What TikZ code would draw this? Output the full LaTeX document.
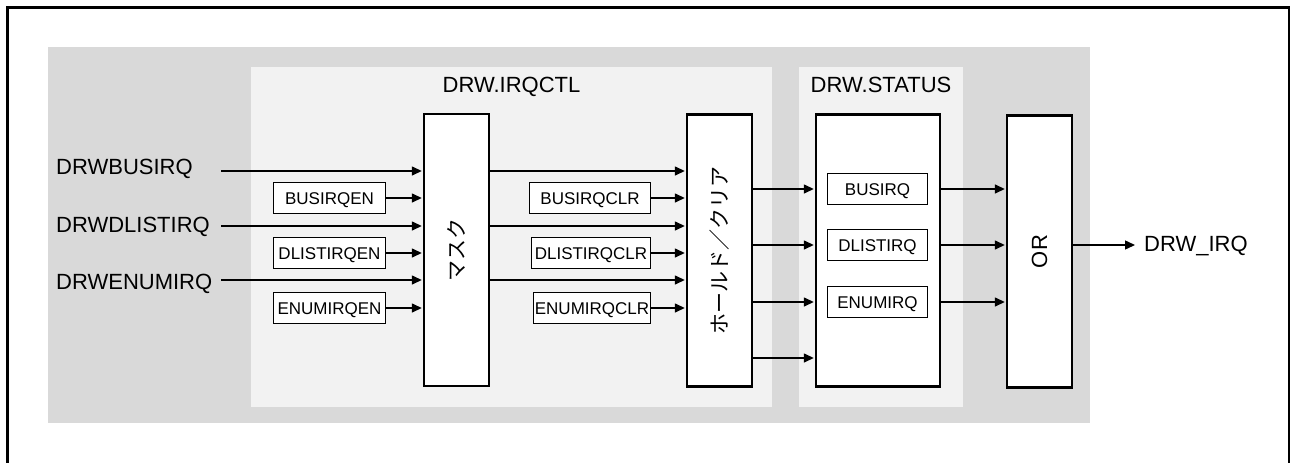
\documentclass[tikz,border=0pt]{standalone}
\usepackage{fontspec}
\setmainfont{Liberation Sans}
\newfontfamily\jpfont{Noto Sans CJK JP}
\usetikzlibrary{arrows.meta}
\definecolor{bgdark}{HTML}{D9D9D9}
\definecolor{bglight}{HTML}{F2F2F2}

\begin{document}
\begin{tikzpicture}[x=1pt,y=-1pt]
\tikzstyle{big} = [font=\fontsize{22}{26}\selectfont, inner sep=0pt]
\tikzstyle{jp} = [font=\jpfont\fontsize{21}{24}\selectfont, inner sep=0pt]
\tikzstyle{reg} = [draw, line width=1pt, fill=white, inner sep=0pt, minimum height=31pt, text height=12.3pt, text depth=0pt, font=\fontsize{17}{20}\selectfont]
\tikzstyle{block} = [draw, line width=2.4pt, fill=white, inner sep=0pt, minimum width=65pt, minimum height=272pt]
\tikzstyle{wire} = [line width=1.4pt, -{Triangle[length=10pt,width=9pt]}, shorten >=1pt]

\useasboundingbox (0,0) rectangle (1290,463);
\draw[line width=3pt] (7.5,463) -- (7.5,7.5) -- (1290,7.5);
\draw[line width=1.6pt] (1289.2,7.5) -- (1289.2,463);

% background areas
\fill[bgdark] (48,47) rectangle (1090,423);
\fill[bglight] (251,67) rectangle (772,407);
\fill[bglight] (799,67) rectangle (963,407);

\node[big, anchor=base] (irqctl) at (511.5,92) {DRW.IRQCTL};
\node[big, anchor=base] (status) at (881,92) {DRW.STATUS};

% blocks
\node[block, label={[jp, rotate=90] center:マスク}] (mask) at (456.5,250) {};
\node[block, label={[jp, rotate=90] center:ホールド／クリア}] (hold) at (719.5,250.5) {};
\node[block, minimum width=124pt] (statbox) at (878,250.5) {};
\node[block, label={[big, rotate=90] center:OR}] (orbox) at (1039.5,251.5) {};

% input signals
\node[big, anchor=base west] (drwbus) at (56,174.5) {DRWBUSIRQ};
\node[big, anchor=base west] (drwdlist) at (56,232.5) {DRWDLISTIRQ};
\node[big, anchor=base west] (drwenum) at (56,289.5) {DRWENUMIRQ};
\coordinate (inbus) at (221,171);
\coordinate (indlist) at (221,226);
\coordinate (inenum) at (221,280);

\node[reg, minimum width=112pt] (busen) at (329.5,198) {BUSIRQEN};
\node[reg, minimum width=112pt] (dlisten) at (329.5,253) {DLISTIRQEN};
\node[reg, minimum width=112pt] (enumen) at (329.5,308) {ENUMIRQEN};

\node[reg, minimum width=121pt] (busclr) at (590,198) {BUSIRQCLR};
\node[reg, minimum width=119pt] (dlistclr) at (591,253) {DLISTIRQCLR};
\node[reg, minimum width=117pt] (enumclr) at (592,308) {ENUMIRQCLR};

\node[reg, minimum width=100pt] (stbus) at (877.5,189) {BUSIRQ};
\node[reg, minimum width=100pt] (stdlist) at (877.5,245) {DLISTIRQ};
\node[reg, minimum width=100pt] (stenum) at (877.5,302) {ENUMIRQ};

\coordinate (outtip) at (1136,245);
\node[big, anchor=base west] (drwirq) at (1144,251.5) {DRW\_IRQ};

% connectors
\foreach \src in {inbus,indlist,inenum}{
  \draw[wire] (\src) -- (\src -| mask.west);
  \draw[wire] (\src -| mask.east) -- (\src -| hold.west);
}
\foreach \src in {busen,dlisten,enumen}
  \draw[wire] (\src.east) -- (\src.east -| mask.west);
\foreach \src in {busclr,dlistclr,enumclr}
  \draw[wire] (\src.east) -- (\src.east -| hold.west);
\foreach \y in {189,245,302,358}
  \draw[wire] (hold.east |- 0,\y) -- (statbox.west |- 0,\y);
\foreach \src in {stbus,stdlist,stenum}
  \draw[wire] (\src -| statbox.east) -- (\src -| orbox.west);
\draw[wire] (orbox.east |- outtip) -- (outtip);

\end{tikzpicture}
\end{document}
